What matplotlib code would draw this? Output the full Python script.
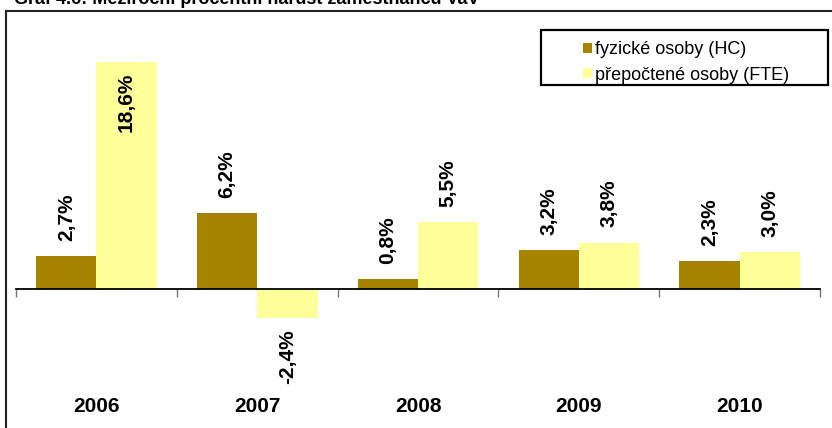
import matplotlib
matplotlib.use("Agg")
import matplotlib.pyplot as plt
from matplotlib.lines import Line2D
from matplotlib.patches import Rectangle, Patch
import numpy as np

plt.rcParams['font.family'] = ['Liberation Sans', 'DejaVu Sans']

# DATA
years = ['2006', '2007', '2008', '2009', '2010']
hc = [2.7, 6.2, 0.8, 3.2, 2.3]
fte = [18.6, -2.4, 5.5, 3.8, 3.0]
series_names = ['fyzické osoby (HC)', 'přepočtené osoby (FTE)']
title = 'Graf 4.6: Meziroční procentní nárůst zaměstnanců VaV'

HC_COLOR = '#A68400'
FTE_COLOR = '#FFFF99'

W, H = 832, 428
fig = plt.figure(figsize=(W / 100, H / 100), dpi=100)

def px(x, y):
    # pixel (from top-left) -> figure fraction
    return x / W, 1 - y / H

# axes placed in pixel terms
l, t = px(16, 45)
r, b = px(820, 395)
ax = fig.add_axes([l, b, r - l, t - b])

x = np.arange(len(years))
bw = 0.375
bars_hc = ax.bar(x - bw / 2, hc, bw, color=HC_COLOR, linewidth=0)
bars_fte = ax.bar(x + bw / 2, fte, bw, color=FTE_COLOR, linewidth=0)

ax.set_xlim(-0.5, len(years) - 0.5)
ax.set_ylim(-8.7, 20)

for s in ['top', 'right', 'left']:
    ax.spines[s].set_visible(False)
ax.spines['bottom'].set_position(('data', 0))
ax.spines['bottom'].set_linewidth(1.3)
ax.spines['bottom'].set_zorder(3)
ax.set_yticks([])
ax.set_xticks(np.arange(-0.5, len(years)))
ax.set_xticklabels([])
ax.tick_params(axis='x', direction='out', length=6, width=1, color='#777777')

# category labels
for i, yr in enumerate(years):
    ax.text(i, -0.034, yr, transform=ax.get_xaxis_transform(), ha='center',
            va='center', fontsize=15, fontweight='bold')

# value labels
top = ax.get_ylim()[1]
for bars, vals in [(bars_hc, hc), (bars_fte, fte)]:
    for bar, v in zip(bars, vals):
        cx = bar.get_x() + bar.get_width() / 2
        txt = ('%.1f%%' % v).replace('.', ',')
        if v < 0:
            off, va = -8, 'top'
        elif v > top - 3:
            off, va = -7.5, 'top'
        else:
            off, va = 11, 'bottom'
        ax.annotate(txt, (cx, v), xytext=(0, off), textcoords='offset points',
                    rotation=90, ha='center', va=va, fontsize=15,
                    fontweight='bold')

# legend box drawn manually, entries inside
lx0, ly0 = px(541, 85)
lx1, ly1 = px(828, 30)
fig.add_artist(Rectangle((lx0, ly0), lx1 - lx0, ly1 - ly0, transform=fig.transFigure,
                         facecolor='white', edgecolor='black', linewidth=1.6, zorder=5))
handles = [Patch(facecolor=HC_COLOR), Patch(facecolor=FTE_COLOR)]
leg = fig.legend(handles, series_names, loc='upper left',
                 bbox_to_anchor=px(569, 27), frameon=False, fontsize=13,
                 handlelength=0.45, handleheight=0.45, handletextpad=0.2,
                 labelspacing=0.45, borderpad=0.3)
leg.set_zorder(6)

# outer chart border (top and left visible, rest cut off)
fig.add_artist(Line2D([px(6, 0)[0], 1], [px(0, 11)[1]] * 2,
                      transform=fig.transFigure, color='#222222', linewidth=1.5))
fig.add_artist(Line2D([px(6, 0)[0]] * 2, [0, px(0, 11)[1]],
                      transform=fig.transFigure, color='#222222', linewidth=1.5))

# title, mostly cut off at the top edge as in the source image
fig.text(px(14, 0)[0], px(0, 4)[1], title, ha='left', va='baseline',
         fontsize=13, fontweight='bold')

fig.savefig('out.png', dpi=100)
